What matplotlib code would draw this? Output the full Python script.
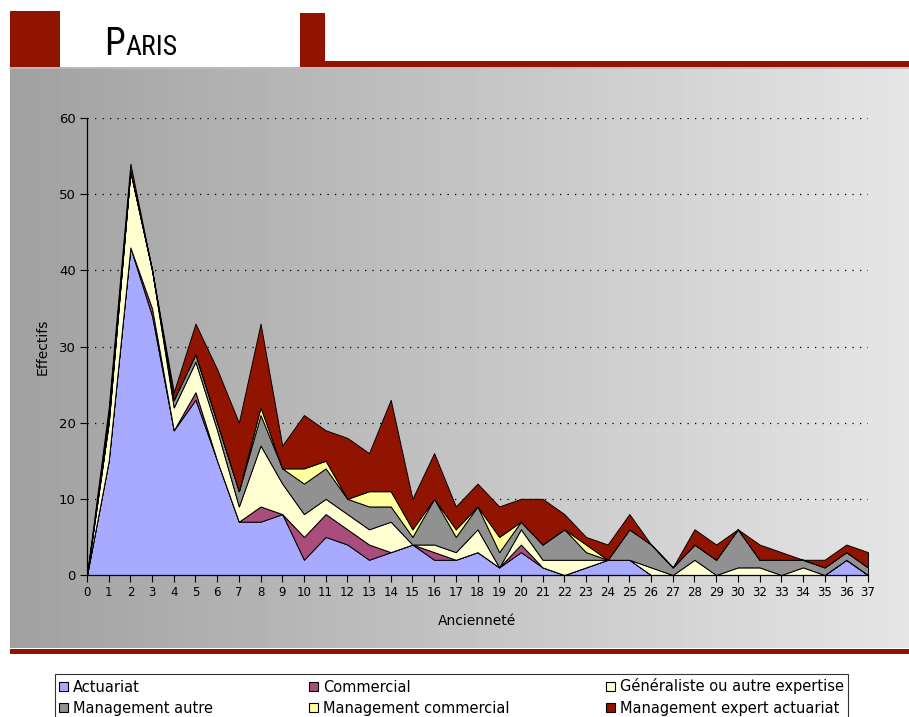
import numpy as np
import matplotlib
matplotlib.use("Agg")
import matplotlib.pyplot as plt
from matplotlib.patches import Rectangle, Patch

# ---------------- data ----------------
anciennete = ["0", "1", "2", "3", "4", "5", "6", "7", "8", "9", "10", "11", "12",
              "13", "14", "15", "16", "17", "18", "19", "20", "21", "22", "23",
              "24", "25", "26", "27", "28", "29", "30", "32", "33", "34", "35",
              "36", "37"]
actuariat = [0, 15, 43, 34, 19, 23, 15, 7, 7, 8, 2, 5, 4, 2, 3, 4, 2, 2, 3, 1,
             3, 1, 0, 1, 2, 2, 0, 0, 0, 0, 0, 0, 0, 0, 0, 2, 0]
commercial = [0, 0, 0, 1, 0, 1, 0, 0, 2, 0, 3, 3, 2, 2, 0, 0, 1, 0, 0, 0,
              1, 0, 0, 0, 0, 0, 0, 0, 0, 0, 0, 0, 0, 0, 0, 0, 0]
generaliste = [0, 5, 10, 5, 3, 4, 4, 2, 8, 4, 3, 2, 2, 2, 4, 0, 1, 1, 3, 0,
               2, 1, 2, 1, 0, 0, 1, 0, 2, 0, 1, 1, 0, 1, 0, 0, 0]
mgmt_autre = [0, 0, 0, 0, 1, 1, 1, 2, 4, 2, 4, 4, 2, 3, 2, 1, 6, 2, 3, 2,
              1, 2, 4, 1, 0, 4, 3, 1, 2, 2, 5, 1, 2, 1, 1, 1, 1]
mgmt_commercial = [0, 1, 0, 0, 0, 0, 0, 0, 1, 0, 2, 1, 0, 2, 2, 1, 0, 1, 0, 2,
                   0, 0, 0, 1, 0, 0, 0, 0, 0, 0, 0, 0, 0, 0, 0, 0, 0]
mgmt_expert = [0, 1, 1, 0, 1, 4, 7, 9, 11, 3, 7, 4, 8, 5, 12, 4, 6, 3, 3, 4,
               3, 6, 2, 1, 2, 2, 0, 0, 2, 2, 0, 2, 1, 0, 1, 1, 2]

series_names = ["Actuariat", "Commercial", "Généraliste ou autre expertise",
                "Management autre", "Management commercial",
                "Management expert actuariat"]
series_colors = ["#a7aaff", "#a84d7c", "#ffffd2", "#919191", "#ffff9c", "#911400"]

# ---------------- figure ----------------
W, H = 909, 717
fig = plt.figure(figsize=(W / 100, H / 100), dpi=100)
fig.patch.set_facecolor("white")

# decoration layer in pixel coordinates
bg = fig.add_axes([0, 0, 1, 1])
bg.set_xlim(0, W)
bg.set_ylim(H, 0)
bg.axis("off")
grad = np.linspace(0.63, 0.90, 256)[None, :]
bg.imshow(grad, cmap="gray", vmin=0, vmax=1, extent=[10, W, 648, 67],
          aspect="auto", interpolation="bicubic")
bg.plot([10, W], [67.5, 67.5], color="#bdbdbd", lw=1.2)
red = "#911400"
bg.add_patch(Rectangle((10, 11), 50, 56, color=red, lw=0))
bg.add_patch(Rectangle((300, 13), 25, 54, color=red, lw=0))
bg.add_patch(Rectangle((325, 61), W - 325, 6, color=red, lw=0))
bg.add_patch(Rectangle((10, 649), W - 10, 5, color=red, lw=0))
title_fam = ["Roboto Condensed", "Liberation Sans Narrow", "Liberation Sans", "DejaVu Sans"]
bg.text(104, 55, "P", fontsize=27, family=title_fam,
        ha="left", va="baseline", color="black")
bg.text(125, 55, "ARIS", fontsize=20, family=title_fam,
        ha="left", va="baseline", color="black")

# ---------------- main chart ----------------
ax = fig.add_axes([87 / W, (H - 575) / H, 781 / W, 457 / H])
ax.patch.set_alpha(0)
x = np.arange(len(anciennete))
data = [actuariat, commercial, generaliste, mgmt_autre, mgmt_commercial, mgmt_expert]
ax.stackplot(x, *data, colors=series_colors, edgecolor="black", linewidth=0.7,
             labels=series_names)
ax.set_xlim(0, len(anciennete) - 1)
ax.set_ylim(0, 60)
ax.set_yticks(range(0, 61, 10))
ax.set_xticks(x)
ax.set_xticklabels(anciennete, fontsize=8.5)
ax.tick_params(axis="y", labelsize=9.5, length=5, width=0.8, direction="out", pad=3)
ax.tick_params(axis="x", length=5, width=0.8, direction="out", pad=3)
ax.yaxis.grid(True, color="black", linestyle=(0, (1, 5)), linewidth=0.9)
ax.set_axisbelow(True)
for s in ("top", "right"):
    ax.spines[s].set_visible(False)
for s in ("left", "bottom"):
    ax.spines[s].set_linewidth(0.9)
ax.set_xlabel("Ancienneté", fontsize=10, labelpad=11)
ax.set_ylabel("Effectifs", fontsize=10, labelpad=7)

# ---------------- legend ----------------
handles = [Patch(facecolor=c, edgecolor="black", linewidth=0.8) for c in series_colors]
order = [0, 3, 1, 4, 2, 5]
leg = fig.legend([handles[i] for i in order], [series_names[i] for i in order],
                 ncol=3, loc="lower left",
                 bbox_to_anchor=(55 / W, -3 / H, 793 / W, 46 / H), mode="expand",
                 frameon=True, fancybox=False, edgecolor="black", borderaxespad=0,
                 handlelength=0.6, handleheight=0.6, handletextpad=0.35,
                 labelspacing=0.42, fontsize=10.5, borderpad=0.3, columnspacing=0.5)
leg.get_frame().set_linewidth(0.8)

fig.savefig("out.png", dpi=100)
